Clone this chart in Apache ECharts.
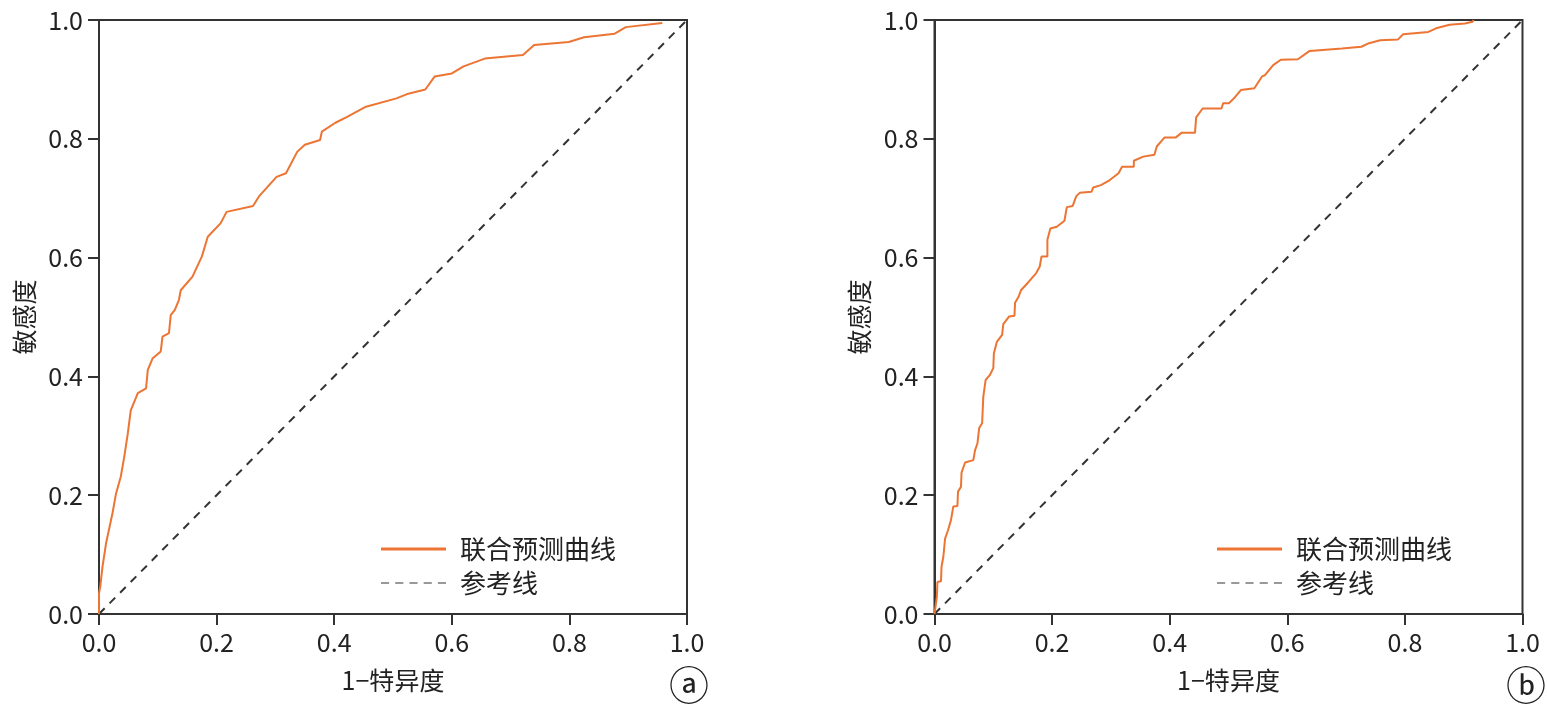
<!DOCTYPE html>
<html>
<head>
<meta charset="utf-8">
<script src="https://cdn.jsdelivr.net/npm/echarts@6/dist/echarts.min.js"></script>
<style>
html,body{margin:0;padding:0;background:#fff;}
#c{width:1547px;height:705px;}
</style>
</head>
<body>
<div id="c"></div>
<script>
var xTicks = [0, 0.2, 0.4, 0.6, 0.8, 1.0];
var yTicks = [0, 0.2, 0.4, 0.6, 0.8, 1.0];
var seriesNames = ['联合预测曲线', '参考线'];
var xAxisName = '1\u2212特异度';
var yAxisName = '敏感度';
var panelLabels = ['\u24D0', '\u24D1'];

var leftFpr = [0, 0, 0.002, 0.006, 0.012, 0.018, 0.023, 0.029, 0.037, 0.043, 0.049, 0.054, 0.066, 0.080, 0.083, 0.091, 0.105, 0.108, 0.119, 0.122, 0.129, 0.136, 0.139, 0.159, 0.175, 0.185, 0.207, 0.217, 0.262, 0.272, 0.302, 0.318, 0.337, 0.350, 0.376, 0.379, 0.402, 0.422, 0.454, 0.506, 0.526, 0.555, 0.571, 0.600, 0.620, 0.656, 0.721, 0.740, 0.799, 0.825, 0.877, 0.896, 0.958];
var leftTpr = [0, 0.035, 0.045, 0.080, 0.119, 0.147, 0.170, 0.203, 0.231, 0.265, 0.304, 0.343, 0.372, 0.380, 0.411, 0.430, 0.442, 0.467, 0.473, 0.503, 0.512, 0.529, 0.545, 0.568, 0.602, 0.635, 0.658, 0.677, 0.687, 0.703, 0.736, 0.742, 0.778, 0.790, 0.798, 0.812, 0.827, 0.837, 0.854, 0.868, 0.876, 0.883, 0.905, 0.910, 0.922, 0.935, 0.941, 0.958, 0.963, 0.971, 0.977, 0.988, 0.995];

var rightFpr = [0, 0.004, 0.005, 0.011, 0.012, 0.015, 0.018, 0.023, 0.028, 0.032, 0.039, 0.040, 0.045, 0.046, 0.052, 0.066, 0.069, 0.073, 0.076, 0.081, 0.083, 0.087, 0.094, 0.100, 0.101, 0.106, 0.115, 0.117, 0.127, 0.136, 0.137, 0.143, 0.147, 0.160, 0.173, 0.179, 0.182, 0.192, 0.192, 0.197, 0.208, 0.221, 0.225, 0.235, 0.241, 0.247, 0.267, 0.270, 0.283, 0.296, 0.313, 0.319, 0.339, 0.339, 0.355, 0.374, 0.378, 0.391, 0.410, 0.420, 0.443, 0.445, 0.456, 0.488, 0.491, 0.501, 0.511, 0.521, 0.544, 0.557, 0.562, 0.576, 0.589, 0.618, 0.638, 0.693, 0.726, 0.739, 0.758, 0.788, 0.797, 0.840, 0.853, 0.876, 0.902, 0.915, 0.917];
var rightTpr = [0, 0.029, 0.054, 0.055, 0.080, 0.096, 0.127, 0.141, 0.158, 0.181, 0.182, 0.206, 0.214, 0.238, 0.255, 0.259, 0.276, 0.287, 0.313, 0.321, 0.366, 0.394, 0.402, 0.414, 0.439, 0.458, 0.470, 0.488, 0.501, 0.502, 0.524, 0.534, 0.545, 0.559, 0.574, 0.585, 0.602, 0.602, 0.630, 0.649, 0.652, 0.662, 0.685, 0.687, 0.703, 0.709, 0.711, 0.718, 0.722, 0.729, 0.742, 0.753, 0.753, 0.763, 0.770, 0.773, 0.787, 0.802, 0.802, 0.810, 0.810, 0.836, 0.851, 0.851, 0.860, 0.860, 0.870, 0.882, 0.885, 0.905, 0.907, 0.924, 0.933, 0.934, 0.948, 0.952, 0.955, 0.961, 0.966, 0.967, 0.976, 0.980, 0.986, 0.992, 0.994, 0.997, 1.0];

var refX = [0, 1];
var refY = [0, 1];

function pairs(xs, ys) {
  var out = [];
  for (var i = 0; i < xs.length; i++) out.push([xs[i], ys[i]]);
  return out;
}

var FONT = '"Noto Sans CJK SC", "Noto Sans", sans-serif';
var ORANGE = '#EC7534';
var DARK = '#333333';
var SOLID_ICON = 'path://M0,0 L65,0 L65,3 L0,3 Z';
var DASH_ICON = 'path://M0,0 L8,0 L8,2 L0,2 Z M14,0 L22,0 L22,2 L14,2 Z M28,0 L36,0 L36,2 L28,2 Z M42,0 L50,0 L50,2 L42,2 Z M56,0 L64,0 L64,2 L56,2 Z';

var grids = [
  {left: 99, top: 20, width: 588, height: 594},
  {left: 934.5, top: 20, width: 588, height: 594}
];

function xAxisFor(i) {
  return {
    gridIndex: i, type: 'value', min: 0, max: 1, interval: 0.2,
    name: xAxisName, nameLocation: 'middle', nameGap: 54,
    nameTextStyle: {fontFamily: FONT, fontSize: 25, color: '#222'},
    axisLine: {show: true, onZero: false, lineStyle: {color: DARK, width: 2}},
    axisTick: {show: true, length: 11, inside: false, lineStyle: {color: DARK, width: 2}},
    axisLabel: {fontFamily: FONT, fontSize: 25, color: '#222', margin: 16,
      formatter: function (v) { return v.toFixed(1); }},
    splitLine: {show: false}
  };
}
function yAxisFor(i) {
  return {
    gridIndex: i, type: 'value', min: 0, max: 1, interval: 0.2,
    name: yAxisName, nameLocation: 'middle', nameGap: 62, nameRotate: 90,
    nameTextStyle: {fontFamily: FONT, fontSize: 25, color: '#222'},
    axisLine: {show: true, onZero: false, lineStyle: {color: DARK, width: 2}},
    axisTick: {show: true, length: 11, inside: false, lineStyle: {color: DARK, width: 2}},
    axisLabel: {fontFamily: FONT, fontSize: 25, color: '#222', margin: 16,
      formatter: function (v) { return v.toFixed(1); }},
    splitLine: {show: false}
  };
}

function legendFor(i) {
  var left = i === 0 ? 376 : 1212;
  var suffix = i === 0 ? '' : '\u200B';
  return {
    show: true,
    orient: 'vertical',
    left: left,
    top: 531,
    itemWidth: 65,
    itemHeight: 14,
    itemGap: 8,
    textStyle: {fontFamily: FONT, fontSize: 26, color: '#222', padding: [0, 0, 0, 9], lineHeight: 26},
    data: [
      {name: seriesNames[0] + suffix, icon: SOLID_ICON, itemStyle: {color: ORANGE}},
      {name: seriesNames[1] + suffix, icon: DASH_ICON, itemStyle: {color: '#999'}}
    ]
  };
}

var series = [];
var curves = [pairs(leftFpr, leftTpr), pairs(rightFpr, rightTpr)];
for (var g = 0; g < 2; g++) {
  var sfx = g === 0 ? '' : '\u200B';
  series.push({
    name: seriesNames[0] + sfx,
    type: 'line', xAxisIndex: g, yAxisIndex: g,
    data: curves[g], showSymbol: false, symbol: 'none',
    lineStyle: {color: ORANGE, width: 2}, itemStyle: {color: ORANGE},
    z: 3, animation: false
  });
  series.push({
    name: seriesNames[1] + sfx,
    type: 'line', xAxisIndex: g, yAxisIndex: g,
    data: pairs(refX, refY), showSymbol: false, symbol: 'none',
    lineStyle: {color: DARK, width: 2, type: [8, 7]}, itemStyle: {color: '#999'},
    z: 2, animation: false
  });
}

var chart = echarts.init(document.getElementById('c'), null, {renderer: 'canvas'});
chart.setOption({
  animation: false,
  backgroundColor: '#fff',
  grid: grids.map(function (gr) {
    return {left: gr.left, top: gr.top, width: gr.width, height: gr.height,
      show: true, borderColor: DARK, borderWidth: 2, backgroundColor: 'transparent', containLabel: false};
  }),
  xAxis: [xAxisFor(0), xAxisFor(1)],
  yAxis: [yAxisFor(0), yAxisFor(1)],
  legend: [legendFor(0), legendFor(1)],
  graphic: [
    {type: 'text', x: 689, y: 685, style: {text: panelLabels[0], font: '40px ' + FONT, fill: '#222', align: 'center', verticalAlign: 'middle'}},
    {type: 'text', x: 1526, y: 685, style: {text: panelLabels[1], font: '40px ' + FONT, fill: '#222', align: 'center', verticalAlign: 'middle'}}
  ],
  series: series
});
</script>
</body>
</html>
